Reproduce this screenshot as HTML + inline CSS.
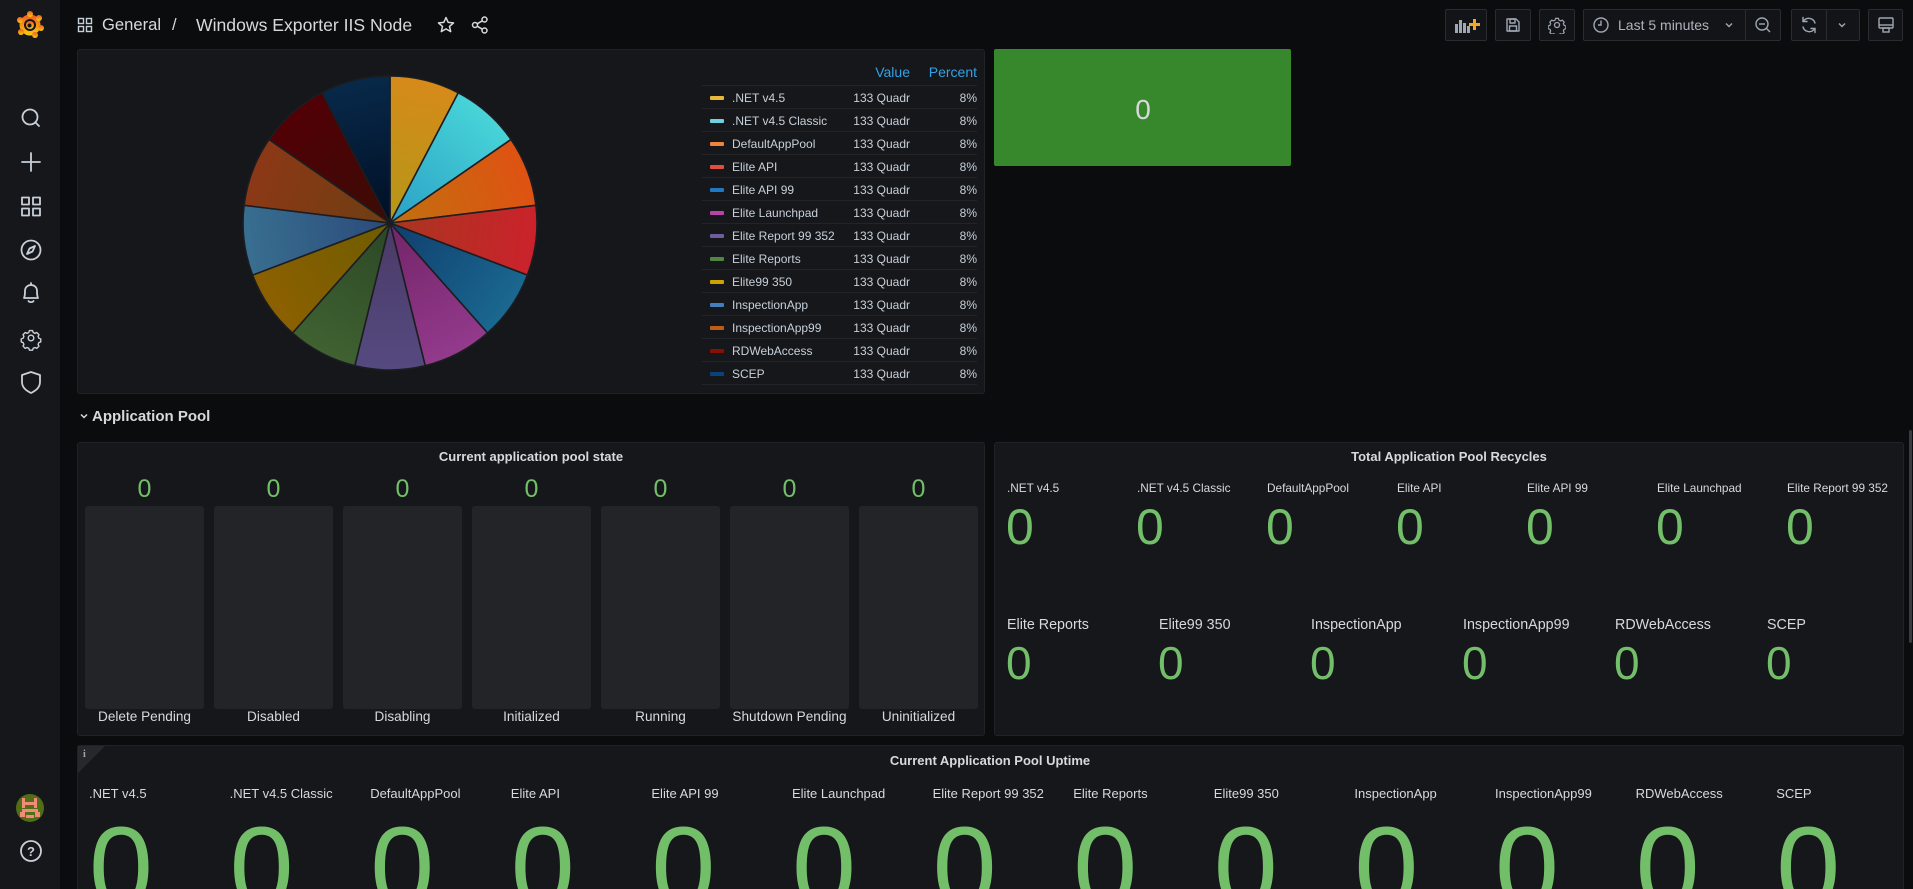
<!DOCTYPE html>
<html>
<head>
<meta charset="utf-8">
<style>
  html,body{margin:0;padding:0;width:1913px;height:889px;overflow:hidden;background:#0b0c0e;}
  #root{position:relative;width:1913px;height:889px;overflow:hidden;background:#0b0c0e;font-family:"Liberation Sans",sans-serif;color:#d8d9da;}
  .t{position:absolute;white-space:nowrap;line-height:1;}
  .c{text-align:center;}
  .r{text-align:right;}
  .panel{position:absolute;background:#16171b;border:1px solid #202226;border-radius:3px;box-sizing:border-box;overflow:hidden;}
  .btn{position:absolute;top:9px;height:32px;box-sizing:border-box;border:1px solid #2a2c31;background:#131418;border-radius:2px;}
  .bar{position:absolute;top:506px;width:119px;height:203px;background:#232428;border-radius:3px;}
  .g{color:#73bf69;}
  .title{font-weight:bold;font-size:13px;color:#d8d9da;}
  .lg{font-size:12px;color:#c7d0d9;}
  .sw{position:absolute;left:710px;width:14px;height:4px;border-radius:1px;}
  .sep{position:absolute;left:702px;width:275px;height:1px;background:#222428;}
</style>
</head>
<body>
<div id="root">

<!-- Sidebar -->
<div style="position:absolute;left:0;top:0;width:60px;height:889px;background:#16171b;"></div>
<svg style="position:absolute;left:0;top:0" width="60" height="889" viewBox="0 0 60 889">
  <defs>
    <linearGradient id="logo" x1="0" y1="1" x2="0" y2="0">
      <stop offset="0" stop-color="#fbca0a"/>
      <stop offset="1" stop-color="#f05a28"/>
    </linearGradient>
  </defs>
  <g transform="translate(30,25)">
    <circle r="10.5" fill="url(#logo)"/>
    <circle cx="0" cy="-11" r="3" fill="url(#logo)"/>
    <circle cx="9" cy="-7" r="3" fill="url(#logo)"/>
    <circle cx="11" cy="3" r="3" fill="url(#logo)"/>
    <circle cx="-10" cy="-5" r="3" fill="url(#logo)"/>
    <circle cx="-9" cy="7" r="3" fill="url(#logo)"/>
    <circle cx="5" cy="10" r="3" fill="url(#logo)"/>
    <circle r="6" fill="#16171b"/>
    <circle r="4" fill="url(#logo)"/>
    <circle cx="-0.5" cy="0.5" r="2" fill="#16171b"/>
  </g>
  <g fill="none" stroke="#c7d0d9" stroke-width="1.8" stroke-linecap="round" stroke-linejoin="round">
    <circle cx="30" cy="117" r="7.5"/>
    <line x1="35.5" y1="122.5" x2="39" y2="126"/>
    <line x1="31" y1="153" x2="31" y2="171"/>
    <line x1="22" y1="162" x2="40" y2="162"/>
    <rect x="22" y="197.5" width="7" height="7"/>
    <rect x="33" y="197.5" width="7" height="7"/>
    <rect x="22" y="208.5" width="7" height="7"/>
    <rect x="33" y="208.5" width="7" height="7"/>
    <circle cx="31" cy="250" r="9.5"/>
    <path d="M35,246 L32.5,251.5 L27,254 L29.5,248.5 Z"/>
    <path d="M24,298 C25,296 25,294 25,291 C25,287 28,285 31,285 C34,285 37,287 37,291 C37,294 37,296 38,298 Z"/>
    <path d="M28.5,301 C29,302.5 33,302.5 33.5,301"/>
    <line x1="31" y1="283" x2="31" y2="285"/>
    <g transform="translate(31,338) scale(0.78) translate(-31,-338)">
      <circle cx="31" cy="338" r="3.6"/>
      <path d="M29,328.5 h4 l0.8,2.4 2.3,1.1 2.3,-1.1 2.8,2.8 -1.1,2.3 1,2.3 2.4,0.8 v4 l-2.4,0.8 -1,2.3 1.1,2.3 -2.8,2.8 -2.3,-1.1 -2.3,1 -0.8,2.4 h-4 l-0.8,-2.4 -2.3,-1 -2.3,1.1 -2.8,-2.8 1.1,-2.3 -1,-2.3 -2.4,-0.8 v-4 l2.4,-0.8 1,-2.3 -1.1,-2.3 2.8,-2.8 2.3,1.1 2.3,-1.1 Z"/>
    </g>
    <path d="M31,372 L40,375 V382 C40,388 35,391 31,393 C27,391 22,388 22,382 V375 Z"/>
    <circle cx="31" cy="851" r="10"/>
  </g>
  <text x="31" y="856" font-family="Liberation Sans" font-size="13" font-weight="bold" fill="#c7d0d9" text-anchor="middle">?</text>
  <circle cx="30" cy="808" r="14" fill="#4f6e16"/>
  <rect x="22" y="798" width="3" height="10" fill="#f28a7a"/>
  <rect x="34" y="798" width="3" height="10" fill="#f28a7a"/>
  <rect x="25" y="802" width="9" height="3" fill="#f28a7a"/>
  <rect x="22" y="809" width="16" height="3" fill="#f28a7a"/>
  <rect x="20" y="812" width="5" height="5" fill="#f28a7a"/>
  <rect x="35" y="812" width="5" height="5" fill="#f28a7a"/>
  <rect x="26" y="815" width="8" height="3" fill="#f28a7a"/>
</svg>

<!-- Header -->
<svg style="position:absolute;left:76px;top:16px" width="18" height="18" viewBox="0 0 18 18">
  <g fill="none" stroke="#c7d0d9" stroke-width="1.4">
    <rect x="2.5" y="2.5" width="5" height="5"/>
    <rect x="10.5" y="2.5" width="5" height="5"/>
    <rect x="2.5" y="10.5" width="5" height="5"/>
    <rect x="10.5" y="10.5" width="5" height="5"/>
  </g>
</svg>
<div class="t" style="left:102px;top:16.5px;font-size:16.6px;color:#d8d9da;">General</div>
<div class="t" style="left:172px;top:16.5px;font-size:16.6px;color:#d8d9da;">/</div>
<div class="t" style="left:196px;top:16.5px;font-size:17.6px;color:#d8d9da;">Windows Exporter IIS Node</div>
<svg style="position:absolute;left:436px;top:15px" width="20" height="20" viewBox="0 0 20 20">
  <path d="M10,2.5 L12.2,7.4 L17.5,7.9 L13.5,11.4 L14.7,16.6 L10,13.9 L5.3,16.6 L6.5,11.4 L2.5,7.9 L7.8,7.4 Z" fill="none" stroke="#d8d9da" stroke-width="1.5" stroke-linejoin="round"/>
</svg>
<svg style="position:absolute;left:470px;top:15px" width="20" height="20" viewBox="0 0 20 20">
  <g fill="none" stroke="#d8d9da" stroke-width="1.5">
    <circle cx="14.5" cy="4.5" r="2.5"/>
    <circle cx="5" cy="10" r="2.5"/>
    <circle cx="14.5" cy="15.5" r="2.5"/>
    <line x1="7.2" y1="8.8" x2="12.3" y2="5.8"/>
    <line x1="7.2" y1="11.2" x2="12.3" y2="14.2"/>
  </g>
</svg>

<!-- Header buttons -->
<div class="btn" style="left:1445px;width:42px;"></div>
<svg style="position:absolute;left:1453px;top:15px" width="28" height="20" viewBox="0 0 28 20">
  <g fill="#9fa7b3">
    <rect x="2" y="9" width="3" height="9"/>
    <rect x="6" y="5" width="3" height="13"/>
    <rect x="10" y="8" width="3" height="10"/>
    <rect x="14" y="11" width="3" height="7"/>
  </g>
  <rect x="20" y="4" width="3" height="11" fill="#f5a623"/>
  <rect x="16" y="8" width="11" height="3" fill="#f5a623"/>
</svg>
<div class="btn" style="left:1495px;width:36px;"></div>
<svg style="position:absolute;left:1504px;top:16px" width="18" height="18" viewBox="0 0 18 18">
  <g fill="none" stroke="#9fa7b3" stroke-width="1.4" stroke-linejoin="round">
    <path d="M3,3 H12 L15,6 V15 H3 Z"/>
    <rect x="6" y="3" width="5" height="4"/>
    <rect x="5.5" y="10" width="7" height="5"/>
  </g>
</svg>
<div class="btn" style="left:1539px;width:36px;"></div>
<svg style="position:absolute;left:1548px;top:16px" width="18" height="18" viewBox="0 0 18 18">
  <g fill="none" stroke="#9fa7b3" stroke-width="1.3">
    <circle cx="9" cy="9" r="2.5"/>
    <path d="M7.5,1.8 h3 l0.6,1.9 1.8,0.9 1.8,-0.9 2.1,2.1 -0.9,1.8 0.8,1.8 1.9,0.6 v3 l-1.9,0.6 -0.8,1.8 0.9,1.8 -2.1,2.1 -1.8,-0.9 -1.8,0.8 -0.6,1.9 h-3 l-0.6,-1.9 -1.8,-0.8 -1.8,0.9 -2.1,-2.1 0.9,-1.8 -0.8,-1.8 -1.9,-0.6 v-3 l1.9,-0.6 0.8,-1.8 -0.9,-1.8 2.1,-2.1 1.8,0.9 1.8,-0.9 Z" transform="scale(0.92) translate(0.8,0.8)"/>
  </g>
</svg>
<div class="btn" style="left:1583px;width:198px;"></div>
<div style="position:absolute;left:1745px;top:10px;width:1px;height:30px;background:#2a2c31;"></div>
<svg style="position:absolute;left:1592px;top:16px" width="18" height="18" viewBox="0 0 18 18">
  <g fill="none" stroke="#9fa7b3" stroke-width="1.4">
    <circle cx="9" cy="9" r="7"/>
    <path d="M9,4.5 V9 H6"/>
  </g>
</svg>
<div class="t" style="left:1618px;top:18px;font-size:14px;color:#aeb4bd;">Last 5 minutes</div>
<svg style="position:absolute;left:1724px;top:20px" width="10" height="10" viewBox="0 0 10 10">
  <path d="M2,3.5 L5,6.5 L8,3.5" fill="none" stroke="#9fa7b3" stroke-width="1.4"/>
</svg>
<svg style="position:absolute;left:1754px;top:16px" width="18" height="18" viewBox="0 0 18 18">
  <g fill="none" stroke="#9fa7b3" stroke-width="1.4">
    <circle cx="8" cy="8" r="6"/>
    <line x1="12.3" y1="12.3" x2="16" y2="16"/>
    <line x1="5" y1="8" x2="11" y2="8"/>
  </g>
</svg>
<div class="btn" style="left:1791px;width:69px;"></div>
<div style="position:absolute;left:1826px;top:10px;width:1px;height:30px;background:#2a2c31;"></div>
<svg style="position:absolute;left:1799px;top:15px" width="20" height="20" viewBox="0 0 20 20">
  <g fill="none" stroke="#9fa7b3" stroke-width="1.4" stroke-linecap="round">
    <path d="M16,8 A6.5,6.5 0 0 0 4.5,6"/>
    <path d="M4,12 A6.5,6.5 0 0 0 15.5,14"/>
    <path d="M4,2.5 V6.5 H8"/>
    <path d="M16,17.5 V13.5 H12"/>
  </g>
</svg>
<svg style="position:absolute;left:1837px;top:20px" width="10" height="10" viewBox="0 0 10 10">
  <path d="M2,3.5 L5,6.5 L8,3.5" fill="none" stroke="#9fa7b3" stroke-width="1.4"/>
</svg>
<div class="btn" style="left:1868px;width:35px;"></div>
<svg style="position:absolute;left:1877px;top:16px" width="18" height="18" viewBox="0 0 18 18">
  <g fill="none" stroke="#9fa7b3" stroke-width="1.4">
    <rect x="2" y="2" width="14" height="10" rx="1"/>
    <line x1="2" y1="9" x2="16" y2="9"/>
    <rect x="6" y="12" width="6" height="4"/>
  </g>
</svg>

<!-- Pie panel -->
<div class="panel" style="left:77px;top:49px;width:908px;height:345px;"></div>
<svg style="position:absolute;left:0;top:0" width="1000" height="400" viewBox="0 0 1000 400">
  <defs>
    <linearGradient id="s0" gradientUnits="userSpaceOnUse" x1="390" y1="223" x2="425.2" y2="80.3"><stop offset="0" stop-color="#b49818"/><stop offset="1" stop-color="#d68a19"/></linearGradient>
    <linearGradient id="s1" gradientUnits="userSpaceOnUse" x1="390" y1="223" x2="487.5" y2="113"><stop offset="0" stop-color="#2aa0c6"/><stop offset="1" stop-color="#48d4d8"/></linearGradient>
    <linearGradient id="s2" gradientUnits="userSpaceOnUse" x1="390" y1="223" x2="527.4" y2="170.9"><stop offset="0" stop-color="#c0700f"/><stop offset="1" stop-color="#df5212"/></linearGradient>
    <linearGradient id="s3" gradientUnits="userSpaceOnUse" x1="390" y1="223" x2="535.9" y2="240.7"><stop offset="0" stop-color="#a8361e"/><stop offset="1" stop-color="#cb222c"/></linearGradient>
    <linearGradient id="s4" gradientUnits="userSpaceOnUse" x1="390" y1="223" x2="511" y2="306.5"><stop offset="0" stop-color="#103e6e"/><stop offset="1" stop-color="#1a6890"/></linearGradient>
    <linearGradient id="s5" gradientUnits="userSpaceOnUse" x1="390" y1="223" x2="458.3" y2="353.2"><stop offset="0" stop-color="#732468"/><stop offset="1" stop-color="#933a8c"/></linearGradient>
    <linearGradient id="s6" gradientUnits="userSpaceOnUse" x1="390" y1="223" x2="390" y2="370"><stop offset="0" stop-color="#4a3a66"/><stop offset="1" stop-color="#554a80"/></linearGradient>
    <linearGradient id="s7" gradientUnits="userSpaceOnUse" x1="390" y1="223" x2="321.7" y2="353.2"><stop offset="0" stop-color="#2b4726"/><stop offset="1" stop-color="#406231"/></linearGradient>
    <linearGradient id="s8" gradientUnits="userSpaceOnUse" x1="390" y1="223" x2="269" y2="306.5"><stop offset="0" stop-color="#6e5c00"/><stop offset="1" stop-color="#8c6000"/></linearGradient>
    <linearGradient id="s9" gradientUnits="userSpaceOnUse" x1="390" y1="223" x2="244.1" y2="240.7"><stop offset="0" stop-color="#2b4a7a"/><stop offset="1" stop-color="#386f90"/></linearGradient>
    <linearGradient id="s10" gradientUnits="userSpaceOnUse" x1="390" y1="223" x2="252.6" y2="170.9"><stop offset="0" stop-color="#6e3e12"/><stop offset="1" stop-color="#8c3816"/></linearGradient>
    <linearGradient id="s11" gradientUnits="userSpaceOnUse" x1="390" y1="223" x2="292.5" y2="113"><stop offset="0" stop-color="#3a0c04"/><stop offset="1" stop-color="#520006"/></linearGradient>
    <linearGradient id="s12" gradientUnits="userSpaceOnUse" x1="390" y1="223" x2="354.8" y2="80.3"><stop offset="0" stop-color="#000f24"/><stop offset="1" stop-color="#08294a"/></linearGradient>
  </defs>
  <g stroke="#1c1d21" stroke-width="1.6" stroke-linejoin="round">
    <path d="M390,223 L390,76 A147,147 0 0 1 458.3,92.8 Z" fill="url(#s0)"/>
    <path d="M390,223 L458.3,92.8 A147,147 0 0 1 511,139.5 Z" fill="url(#s1)"/>
    <path d="M390,223 L511,139.5 A147,147 0 0 1 535.9,205.3 Z" fill="url(#s2)"/>
    <path d="M390,223 L535.9,205.3 A147,147 0 0 1 527.4,275.1 Z" fill="url(#s3)"/>
    <path d="M390,223 L527.4,275.1 A147,147 0 0 1 487.5,333 Z" fill="url(#s4)"/>
    <path d="M390,223 L487.5,333 A147,147 0 0 1 425.2,365.7 Z" fill="url(#s5)"/>
    <path d="M390,223 L425.2,365.7 A147,147 0 0 1 354.8,365.7 Z" fill="url(#s6)"/>
    <path d="M390,223 L354.8,365.7 A147,147 0 0 1 292.5,333 Z" fill="url(#s7)"/>
    <path d="M390,223 L292.5,333 A147,147 0 0 1 252.6,275.1 Z" fill="url(#s8)"/>
    <path d="M390,223 L252.6,275.1 A147,147 0 0 1 244.1,205.3 Z" fill="url(#s9)"/>
    <path d="M390,223 L244.1,205.3 A147,147 0 0 1 269,139.5 Z" fill="url(#s10)"/>
    <path d="M390,223 L269,139.5 A147,147 0 0 1 321.7,92.8 Z" fill="url(#s11)"/>
    <path d="M390,223 L321.7,92.8 A147,147 0 0 1 390,76 Z" fill="url(#s12)"/>
  </g>
</svg>

<!-- Legend -->
<div class="t r" style="left:830px;width:80px;top:65px;font-size:14px;color:#33a2e5;">Value</div>
<div class="t r" style="left:897px;width:80px;top:65px;font-size:14px;color:#33a2e5;">Percent</div>
<div class="sep" style="top:85px"></div>
<div class="sep" style="top:108px"></div>
<div class="sep" style="top:131px"></div>
<div class="sep" style="top:154px"></div>
<div class="sep" style="top:177px"></div>
<div class="sep" style="top:200px"></div>
<div class="sep" style="top:223px"></div>
<div class="sep" style="top:246px"></div>
<div class="sep" style="top:269px"></div>
<div class="sep" style="top:292px"></div>
<div class="sep" style="top:315px"></div>
<div class="sep" style="top:338px"></div>
<div class="sep" style="top:361px"></div>
<div class="sep" style="top:384px"></div>

<div class="sw" style="top:96px;background:#eab839"></div>
<div class="t lg" style="left:732px;top:92px;">.NET v4.5</div>
<div class="t lg r" style="left:830px;width:80px;top:92px;">133 Quadr</div>
<div class="t lg r" style="left:917px;width:60px;top:92px;">8%</div>

<div class="sw" style="top:119px;background:#6ed0e0"></div>
<div class="t lg" style="left:732px;top:115px;">.NET v4.5 Classic</div>
<div class="t lg r" style="left:830px;width:80px;top:115px;">133 Quadr</div>
<div class="t lg r" style="left:917px;width:60px;top:115px;">8%</div>

<div class="sw" style="top:142px;background:#ef843c"></div>
<div class="t lg" style="left:732px;top:138px;">DefaultAppPool</div>
<div class="t lg r" style="left:830px;width:80px;top:138px;">133 Quadr</div>
<div class="t lg r" style="left:917px;width:60px;top:138px;">8%</div>

<div class="sw" style="top:165px;background:#e24d42"></div>
<div class="t lg" style="left:732px;top:161px;">Elite API</div>
<div class="t lg r" style="left:830px;width:80px;top:161px;">133 Quadr</div>
<div class="t lg r" style="left:917px;width:60px;top:161px;">8%</div>

<div class="sw" style="top:188px;background:#1f78c1"></div>
<div class="t lg" style="left:732px;top:184px;">Elite API 99</div>
<div class="t lg r" style="left:830px;width:80px;top:184px;">133 Quadr</div>
<div class="t lg r" style="left:917px;width:60px;top:184px;">8%</div>

<div class="sw" style="top:211px;background:#ba43a9"></div>
<div class="t lg" style="left:732px;top:207px;">Elite Launchpad</div>
<div class="t lg r" style="left:830px;width:80px;top:207px;">133 Quadr</div>
<div class="t lg r" style="left:917px;width:60px;top:207px;">8%</div>

<div class="sw" style="top:234px;background:#705da0"></div>
<div class="t lg" style="left:732px;top:230px;">Elite Report 99 352</div>
<div class="t lg r" style="left:830px;width:80px;top:230px;">133 Quadr</div>
<div class="t lg r" style="left:917px;width:60px;top:230px;">8%</div>

<div class="sw" style="top:257px;background:#508642"></div>
<div class="t lg" style="left:732px;top:253px;">Elite Reports</div>
<div class="t lg r" style="left:830px;width:80px;top:253px;">133 Quadr</div>
<div class="t lg r" style="left:917px;width:60px;top:253px;">8%</div>

<div class="sw" style="top:280px;background:#cca300"></div>
<div class="t lg" style="left:732px;top:276px;">Elite99 350</div>
<div class="t lg r" style="left:830px;width:80px;top:276px;">133 Quadr</div>
<div class="t lg r" style="left:917px;width:60px;top:276px;">8%</div>

<div class="sw" style="top:303px;background:#447ebc"></div>
<div class="t lg" style="left:732px;top:299px;">InspectionApp</div>
<div class="t lg r" style="left:830px;width:80px;top:299px;">133 Quadr</div>
<div class="t lg r" style="left:917px;width:60px;top:299px;">8%</div>

<div class="sw" style="top:326px;background:#c15c17"></div>
<div class="t lg" style="left:732px;top:322px;">InspectionApp99</div>
<div class="t lg r" style="left:830px;width:80px;top:322px;">133 Quadr</div>
<div class="t lg r" style="left:917px;width:60px;top:322px;">8%</div>

<div class="sw" style="top:349px;background:#890f02"></div>
<div class="t lg" style="left:732px;top:345px;">RDWebAccess</div>
<div class="t lg r" style="left:830px;width:80px;top:345px;">133 Quadr</div>
<div class="t lg r" style="left:917px;width:60px;top:345px;">8%</div>

<div class="sw" style="top:372px;background:#0a437c"></div>
<div class="t lg" style="left:732px;top:368px;">SCEP</div>
<div class="t lg r" style="left:830px;width:80px;top:368px;">133 Quadr</div>
<div class="t lg r" style="left:917px;width:60px;top:368px;">8%</div>

<!-- Green stat -->
<div style="position:absolute;left:994px;top:49px;width:297px;height:117px;background:#37872d;border-radius:2px;"></div>
<div class="t c" style="left:1043px;width:200px;top:96.3px;font-size:28px;color:#d8d9da;">0</div>

<!-- Row title -->
<svg style="position:absolute;left:78px;top:410px" width="12" height="12" viewBox="0 0 12 12">
  <path d="M3,4.5 L6,7.5 L9,4.5" fill="none" stroke="#d8d9da" stroke-width="1.5"/>
</svg>
<div class="t" style="left:92px;top:408.7px;font-size:15px;font-weight:bold;color:#d8d9da;">Application Pool</div>

<!-- Current application pool state -->
<div class="panel" style="left:77px;top:442px;width:908px;height:294px;"></div>
<div class="t c title" style="left:331px;width:400px;top:449.7px;">Current application pool state</div>
<div class="bar" style="left:85px"></div>
<div class="bar" style="left:214px"></div>
<div class="bar" style="left:343px"></div>
<div class="bar" style="left:472px"></div>
<div class="bar" style="left:601px"></div>
<div class="bar" style="left:730px"></div>
<div class="bar" style="left:859px"></div>
<div class="t c g" style="left:84.5px;width:120px;top:476.8px;font-size:25px;">0</div>
<div class="t c g" style="left:213.5px;width:120px;top:476.8px;font-size:25px;">0</div>
<div class="t c g" style="left:342.5px;width:120px;top:476.8px;font-size:25px;">0</div>
<div class="t c g" style="left:471.5px;width:120px;top:476.8px;font-size:25px;">0</div>
<div class="t c g" style="left:600.5px;width:120px;top:476.8px;font-size:25px;">0</div>
<div class="t c g" style="left:729.5px;width:120px;top:476.8px;font-size:25px;">0</div>
<div class="t c g" style="left:858.5px;width:120px;top:476.8px;font-size:25px;">0</div>
<div class="t c" style="left:64.5px;width:160px;top:710.4px;font-size:13.6px;">Delete Pending</div>
<div class="t c" style="left:193.5px;width:160px;top:710.4px;font-size:13.6px;">Disabled</div>
<div class="t c" style="left:322.5px;width:160px;top:710.4px;font-size:13.6px;">Disabling</div>
<div class="t c" style="left:451.5px;width:160px;top:710.4px;font-size:13.6px;">Initialized</div>
<div class="t c" style="left:580.5px;width:160px;top:710.4px;font-size:13.6px;">Running</div>
<div class="t c" style="left:709.5px;width:160px;top:710.4px;font-size:13.6px;">Shutdown Pending</div>
<div class="t c" style="left:838.5px;width:160px;top:710.4px;font-size:13.6px;">Uninitialized</div>

<!-- Total Application Pool Recycles -->
<div class="panel" style="left:994px;top:442px;width:910px;height:294px;"></div>
<div class="t c title" style="left:1249px;width:400px;top:449.7px;">Total Application Pool Recycles</div>

<div class="t" style="left:1007px;top:483px;font-size:11.8px;">.NET v4.5</div>
<div class="t" style="left:1137px;top:483px;font-size:11.8px;">.NET v4.5 Classic</div>
<div class="t" style="left:1267px;top:483px;font-size:11.8px;">DefaultAppPool</div>
<div class="t" style="left:1397px;top:483px;font-size:11.8px;">Elite API</div>
<div class="t" style="left:1527px;top:483px;font-size:11.8px;">Elite API 99</div>
<div class="t" style="left:1657px;top:483px;font-size:11.8px;">Elite Launchpad</div>
<div class="t" style="left:1787px;top:483px;font-size:11.8px;">Elite Report 99 352</div>
<div class="t g" style="left:1006px;top:501.6px;font-size:50px;">0</div>
<div class="t g" style="left:1136px;top:501.6px;font-size:50px;">0</div>
<div class="t g" style="left:1266px;top:501.6px;font-size:50px;">0</div>
<div class="t g" style="left:1396px;top:501.6px;font-size:50px;">0</div>
<div class="t g" style="left:1526px;top:501.6px;font-size:50px;">0</div>
<div class="t g" style="left:1656px;top:501.6px;font-size:50px;">0</div>
<div class="t g" style="left:1786px;top:501.6px;font-size:50px;">0</div>

<div class="t" style="left:1007px;top:618px;font-size:14.3px;">Elite Reports</div>
<div class="t" style="left:1159px;top:618px;font-size:14.3px;">Elite99 350</div>
<div class="t" style="left:1311px;top:618px;font-size:14.3px;">InspectionApp</div>
<div class="t" style="left:1463px;top:618px;font-size:14.3px;">InspectionApp99</div>
<div class="t" style="left:1615px;top:618px;font-size:14.3px;">RDWebAccess</div>
<div class="t" style="left:1767px;top:618px;font-size:14.3px;">SCEP</div>
<div class="t g" style="left:1006px;top:639.6px;font-size:46px;">0</div>
<div class="t g" style="left:1158px;top:639.6px;font-size:46px;">0</div>
<div class="t g" style="left:1310px;top:639.6px;font-size:46px;">0</div>
<div class="t g" style="left:1462px;top:639.6px;font-size:46px;">0</div>
<div class="t g" style="left:1614px;top:639.6px;font-size:46px;">0</div>
<div class="t g" style="left:1766px;top:639.6px;font-size:46px;">0</div>

<!-- scrollbar -->
<div style="position:absolute;left:1909px;top:430px;width:3px;height:213px;background:#3a3b40;border-radius:2px;"></div>

<!-- Current Application Pool Uptime (clipped at viewport bottom) -->
<div style="position:absolute;left:0;top:745px;width:1913px;height:144px;overflow:hidden;">
  <div class="panel" style="left:77px;top:0;width:1827px;height:160px;"></div>
  <svg style="position:absolute;left:77px;top:0" width="30" height="30" viewBox="0 0 30 30">
    <path d="M1,1 L28,1 L1,28 Z" fill="#26282c"/>
    <text x="6" y="12" font-family="Liberation Serif" font-size="10" font-weight="bold" fill="#9fa7b3">i</text>
  </svg>
  <div class="t c title" style="left:790px;width:400px;top:8.7px;">Current Application Pool Uptime</div>

  <div class="t" style="left:89px;top:41.6px;font-size:13px;">.NET v4.5</div>
  <div class="t" style="left:229.6px;top:41.6px;font-size:13px;">.NET v4.5 Classic</div>
  <div class="t" style="left:370.2px;top:41.6px;font-size:13px;">DefaultAppPool</div>
  <div class="t" style="left:510.8px;top:41.6px;font-size:13px;">Elite API</div>
  <div class="t" style="left:651.4px;top:41.6px;font-size:13px;">Elite API 99</div>
  <div class="t" style="left:792px;top:41.6px;font-size:13px;">Elite Launchpad</div>
  <div class="t" style="left:932.6px;top:41.6px;font-size:13px;">Elite Report 99 352</div>
  <div class="t" style="left:1073.2px;top:41.6px;font-size:13px;">Elite Reports</div>
  <div class="t" style="left:1213.8px;top:41.6px;font-size:13px;">Elite99 350</div>
  <div class="t" style="left:1354.4px;top:41.6px;font-size:13px;">InspectionApp</div>
  <div class="t" style="left:1495px;top:41.6px;font-size:13px;">InspectionApp99</div>
  <div class="t" style="left:1635.6px;top:41.6px;font-size:13px;">RDWebAccess</div>
  <div class="t" style="left:1776.2px;top:41.6px;font-size:13px;">SCEP</div>

  <div class="t g" style="left:89px;top:66px;font-size:115px;">0</div>
  <div class="t g" style="left:229.6px;top:66px;font-size:115px;">0</div>
  <div class="t g" style="left:370.2px;top:66px;font-size:115px;">0</div>
  <div class="t g" style="left:510.8px;top:66px;font-size:115px;">0</div>
  <div class="t g" style="left:651.4px;top:66px;font-size:115px;">0</div>
  <div class="t g" style="left:792px;top:66px;font-size:115px;">0</div>
  <div class="t g" style="left:932.6px;top:66px;font-size:115px;">0</div>
  <div class="t g" style="left:1073.2px;top:66px;font-size:115px;">0</div>
  <div class="t g" style="left:1213.8px;top:66px;font-size:115px;">0</div>
  <div class="t g" style="left:1354.4px;top:66px;font-size:115px;">0</div>
  <div class="t g" style="left:1495px;top:66px;font-size:115px;">0</div>
  <div class="t g" style="left:1635.6px;top:66px;font-size:115px;">0</div>
  <div class="t g" style="left:1776.2px;top:66px;font-size:115px;">0</div>
</div>

</div>
</body>
</html>
